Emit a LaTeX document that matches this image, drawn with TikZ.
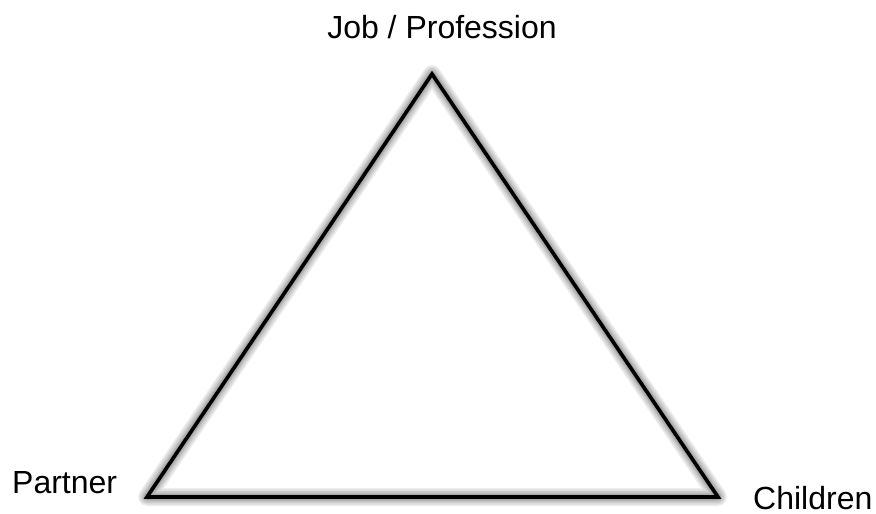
\documentclass[tikz,border=0pt]{standalone}
\usepackage{fontspec}
\setmainfont{Liberation Sans}
\begin{document}
\begin{tikzpicture}[x=1pt,y=-1pt,
  lbl/.style={font=\fontsize{32}{38}\selectfont, inner sep=0pt},
  edge/.style={line width=3.6pt, line join=miter, miter limit=20}]
\useasboundingbox (0,0) rectangle (876,514);
\fill[white] (0,0) rectangle (876,514);
\coordinate (A) at (432,74);
\coordinate (B) at (147,497);
\coordinate (C) at (718,497);
% soft shadow
\foreach \w in {18,15,12,9,7,5} {
  \draw[line width=\w pt, line join=round, black, opacity=0.07, shift={(3,6)}]
    (A) -- (B) -- (C) -- cycle;
}
\draw[edge] (A) -- (B) -- (C) -- cycle;
\node[lbl, anchor=base] (job) at (442,38) {Job / Profession};
\node[lbl, anchor=base west] (partner) at (12,493) {Partner};
\node[lbl, anchor=base west] (children) at (753,509) {Children};
\end{tikzpicture}
\end{document}
